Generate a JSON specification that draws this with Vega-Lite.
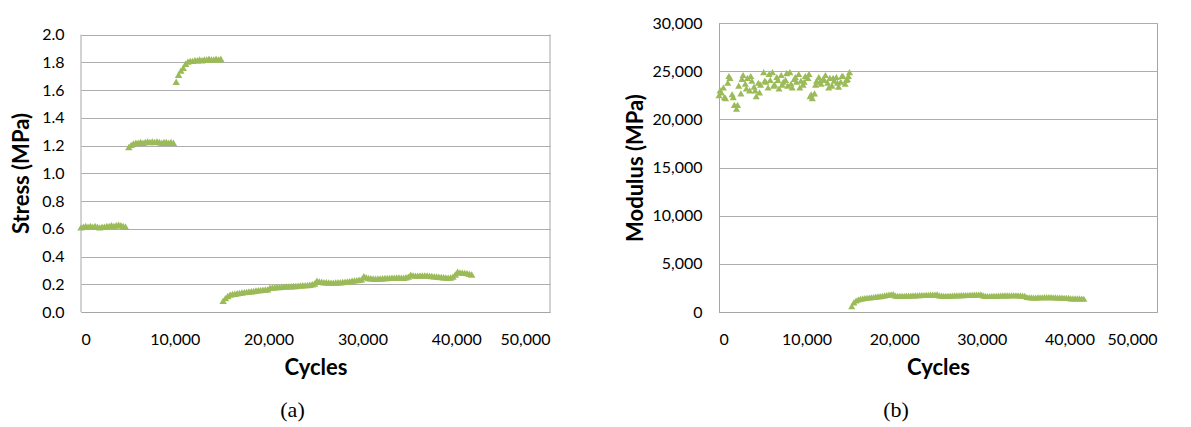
{
  "$schema": "https://vega.github.io/schema/vega-lite/v6.json",
  "background": "white",
  "padding": {"left": 10, "top": 14, "right": 5, "bottom": 5},
  "spacing": 73,
  "config": {
    "view": {"stroke": "#A6A6A6", "strokeWidth": 1},
    "axis": {
      "labelFont": "Lato", "labelFontSize": 16, "labelColor": "#000000", "labelOverlap": false,
      "titleFont": "Lato", "titleFontSize": 22, "titleFontWeight": "bold", "titleColor": "#000000",
      "gridColor": "#ADADAD", "gridWidth": 1, "domainColor": "#A6A6A6",
      "ticks": false, "labelPadding": 17
    }
  },
  "datasets": {
    "edges": [{"edge": 0}, {"edge": 50000}],
    "d": [
      {"cycles":0,"stress":0.61,"modulus":22500},{"cycles":250,"stress":0.615,"modulus":22800},{"cycles":500,"stress":0.62,"modulus":23300},{"cycles":750,"stress":0.615,"modulus":22200},{"cycles":1000,"stress":0.62,"modulus":23800},{"cycles":1250,"stress":0.615,"modulus":24300},{"cycles":1500,"stress":0.62,"modulus":22600},{"cycles":1750,"stress":0.615,"modulus":21500},{"cycles":2000,"stress":0.61,"modulus":21100},{"cycles":2250,"stress":0.615,"modulus":23500},{"cycles":2500,"stress":0.615,"modulus":22700},{"cycles":2750,"stress":0.62,"modulus":24600},{"cycles":3000,"stress":0.62,"modulus":23700},{"cycles":3250,"stress":0.625,"modulus":24300},{"cycles":3500,"stress":0.62,"modulus":23000},{"cycles":3750,"stress":0.625,"modulus":24000},{"cycles":4000,"stress":0.63,"modulus":23400},{"cycles":4250,"stress":0.625,"modulus":22400},{"cycles":4500,"stress":0.62,"modulus":23800},{"cycles":4750,"stress":0.615,"modulus":23600},
      {"cycles":5100,"stress":1.19,"modulus":24900},{"cycles":5350,"stress":1.205,"modulus":23900},{"cycles":5600,"stress":1.215,"modulus":23300},{"cycles":5850,"stress":1.22,"modulus":24100},{"cycles":6100,"stress":1.22,"modulus":24900},{"cycles":6350,"stress":1.225,"modulus":23600},{"cycles":6600,"stress":1.22,"modulus":24400},{"cycles":6850,"stress":1.225,"modulus":23200},{"cycles":7100,"stress":1.23,"modulus":24600},{"cycles":7350,"stress":1.225,"modulus":23900},{"cycles":7600,"stress":1.23,"modulus":24100},{"cycles":7850,"stress":1.225,"modulus":23500},{"cycles":8100,"stress":1.23,"modulus":24900},{"cycles":8350,"stress":1.225,"modulus":23300},{"cycles":8600,"stress":1.22,"modulus":24200},{"cycles":8850,"stress":1.225,"modulus":23900},{"cycles":9100,"stress":1.225,"modulus":24700},{"cycles":9350,"stress":1.22,"modulus":24000},{"cycles":9600,"stress":1.225,"modulus":23600},{"cycles":9850,"stress":1.22,"modulus":24500},
      {"cycles":10150,"stress":1.66,"modulus":24300},{"cycles":10400,"stress":1.71,"modulus":22400},{"cycles":10650,"stress":1.74,"modulus":22200},{"cycles":10900,"stress":1.76,"modulus":22700},{"cycles":11150,"stress":1.79,"modulus":24000},{"cycles":11400,"stress":1.805,"modulus":24400},{"cycles":11650,"stress":1.81,"modulus":23700},{"cycles":11900,"stress":1.81,"modulus":24200},{"cycles":12150,"stress":1.815,"modulus":24600},{"cycles":12400,"stress":1.815,"modulus":23800},{"cycles":12650,"stress":1.82,"modulus":24300},{"cycles":12900,"stress":1.815,"modulus":23500},{"cycles":13150,"stress":1.82,"modulus":24000},{"cycles":13400,"stress":1.82,"modulus":24400},{"cycles":13650,"stress":1.825,"modulus":23400},{"cycles":13900,"stress":1.82,"modulus":23900},{"cycles":14150,"stress":1.82,"modulus":24500},{"cycles":14400,"stress":1.825,"modulus":23700},{"cycles":14650,"stress":1.82,"modulus":24200},{"cycles":14900,"stress":1.825,"modulus":24900},
      {"cycles":15150,"stress":0.08,"modulus":600},{"cycles":15400,"stress":0.10,"modulus":1000},{"cycles":15650,"stress":0.115,"modulus":1200},{"cycles":15900,"stress":0.125,"modulus":1300},{"cycles":16150,"stress":0.13,"modulus":1380},{"cycles":16400,"stress":0.132,"modulus":1420},{"cycles":16650,"stress":0.135,"modulus":1450},{"cycles":16900,"stress":0.138,"modulus":1480},{"cycles":17150,"stress":0.14,"modulus":1500},{"cycles":17400,"stress":0.143,"modulus":1530},{"cycles":17650,"stress":0.145,"modulus":1560},{"cycles":17900,"stress":0.148,"modulus":1590},{"cycles":18150,"stress":0.15,"modulus":1620},{"cycles":18400,"stress":0.152,"modulus":1650},{"cycles":18650,"stress":0.155,"modulus":1680},{"cycles":18900,"stress":0.157,"modulus":1720},{"cycles":19150,"stress":0.158,"modulus":1760},{"cycles":19400,"stress":0.16,"modulus":1800},{"cycles":19650,"stress":0.162,"modulus":1830},{"cycles":19900,"stress":0.163,"modulus":1850},
      {"cycles":20150,"stress":0.175,"modulus":1700},{"cycles":20400,"stress":0.176,"modulus":1680},{"cycles":20650,"stress":0.178,"modulus":1670},{"cycles":20900,"stress":0.18,"modulus":1680},{"cycles":21150,"stress":0.18,"modulus":1690},{"cycles":21400,"stress":0.182,"modulus":1700},{"cycles":21650,"stress":0.183,"modulus":1700},{"cycles":21900,"stress":0.185,"modulus":1710},{"cycles":22150,"stress":0.185,"modulus":1720},{"cycles":22400,"stress":0.186,"modulus":1730},{"cycles":22650,"stress":0.187,"modulus":1740},{"cycles":22900,"stress":0.188,"modulus":1750},{"cycles":23150,"stress":0.19,"modulus":1760},{"cycles":23400,"stress":0.192,"modulus":1770},{"cycles":23650,"stress":0.193,"modulus":1780},{"cycles":23900,"stress":0.194,"modulus":1790},{"cycles":24150,"stress":0.195,"modulus":1800},{"cycles":24400,"stress":0.197,"modulus":1810},{"cycles":24650,"stress":0.20,"modulus":1820},{"cycles":24900,"stress":0.205,"modulus":1830},
      {"cycles":25150,"stress":0.225,"modulus":1720},{"cycles":25400,"stress":0.22,"modulus":1700},{"cycles":25650,"stress":0.218,"modulus":1690},{"cycles":25900,"stress":0.215,"modulus":1680},{"cycles":26150,"stress":0.214,"modulus":1690},{"cycles":26400,"stress":0.213,"modulus":1700},{"cycles":26650,"stress":0.212,"modulus":1710},{"cycles":26900,"stress":0.212,"modulus":1720},{"cycles":27150,"stress":0.213,"modulus":1730},{"cycles":27400,"stress":0.214,"modulus":1740},{"cycles":27650,"stress":0.215,"modulus":1750},{"cycles":27900,"stress":0.216,"modulus":1750},{"cycles":28150,"stress":0.218,"modulus":1760},{"cycles":28400,"stress":0.22,"modulus":1770},{"cycles":28650,"stress":0.222,"modulus":1780},{"cycles":28900,"stress":0.225,"modulus":1790},{"cycles":29150,"stress":0.228,"modulus":1800},{"cycles":29400,"stress":0.23,"modulus":1810},{"cycles":29650,"stress":0.232,"modulus":1820},{"cycles":29900,"stress":0.235,"modulus":1840},
      {"cycles":30150,"stress":0.258,"modulus":1720},{"cycles":30400,"stress":0.25,"modulus":1680},{"cycles":30650,"stress":0.245,"modulus":1660},{"cycles":30900,"stress":0.243,"modulus":1660},{"cycles":31150,"stress":0.241,"modulus":1670},{"cycles":31400,"stress":0.24,"modulus":1680},{"cycles":31650,"stress":0.241,"modulus":1690},{"cycles":31900,"stress":0.242,"modulus":1700},{"cycles":32150,"stress":0.243,"modulus":1710},{"cycles":32400,"stress":0.245,"modulus":1720},{"cycles":32650,"stress":0.245,"modulus":1720},{"cycles":32900,"stress":0.246,"modulus":1730},{"cycles":33150,"stress":0.247,"modulus":1730},{"cycles":33400,"stress":0.248,"modulus":1740},{"cycles":33650,"stress":0.249,"modulus":1740},{"cycles":33900,"stress":0.249,"modulus":1740},{"cycles":34150,"stress":0.248,"modulus":1730},{"cycles":34400,"stress":0.247,"modulus":1720},{"cycles":34650,"stress":0.25,"modulus":1700},{"cycles":34900,"stress":0.255,"modulus":1680},
      {"cycles":35150,"stress":0.268,"modulus":1560},{"cycles":35400,"stress":0.264,"modulus":1530},{"cycles":35650,"stress":0.262,"modulus":1520},{"cycles":35900,"stress":0.262,"modulus":1510},{"cycles":36150,"stress":0.263,"modulus":1510},{"cycles":36400,"stress":0.264,"modulus":1520},{"cycles":36650,"stress":0.264,"modulus":1530},{"cycles":36900,"stress":0.263,"modulus":1530},{"cycles":37150,"stress":0.261,"modulus":1540},{"cycles":37400,"stress":0.259,"modulus":1540},{"cycles":37650,"stress":0.257,"modulus":1540},{"cycles":37900,"stress":0.256,"modulus":1540},{"cycles":38150,"stress":0.254,"modulus":1530},{"cycles":38400,"stress":0.252,"modulus":1520},{"cycles":38650,"stress":0.25,"modulus":1510},{"cycles":38900,"stress":0.249,"modulus":1500},{"cycles":39150,"stress":0.248,"modulus":1490},{"cycles":39400,"stress":0.249,"modulus":1480},{"cycles":39650,"stress":0.255,"modulus":1470},{"cycles":39900,"stress":0.27,"modulus":1460},
      {"cycles":40150,"stress":0.29,"modulus":1420},{"cycles":40400,"stress":0.285,"modulus":1420},{"cycles":40650,"stress":0.284,"modulus":1420},{"cycles":40900,"stress":0.282,"modulus":1420},{"cycles":41150,"stress":0.28,"modulus":1410},{"cycles":41400,"stress":0.276,"modulus":1400},{"cycles":41650,"stress":0.27,"modulus":1380},
      {"cycles":125,"modulus":23000},{"cycles":625,"modulus":22300},{"cycles":1125,"modulus":24500},{"cycles":1625,"modulus":22300},{"cycles":2125,"modulus":21500},{"cycles":2625,"modulus":24200},{"cycles":3125,"modulus":23200},{"cycles":3625,"modulus":24500},{"cycles":4125,"modulus":23000},{"cycles":4625,"modulus":22800},{"cycles":5225,"modulus":24000},{"cycles":5725,"modulus":24700},{"cycles":6225,"modulus":23500},{"cycles":6725,"modulus":24100},{"cycles":7225,"modulus":23600},{"cycles":7725,"modulus":24800},{"cycles":8225,"modulus":23700},{"cycles":8725,"modulus":24400},{"cycles":9225,"modulus":23300},{"cycles":9725,"modulus":23900},{"cycles":10275,"modulus":24700},{"cycles":10525,"modulus":22600},{"cycles":11025,"modulus":23600},{"cycles":11525,"modulus":23900},{"cycles":12025,"modulus":24100},{"cycles":12525,"modulus":23300},{"cycles":13025,"modulus":24300},{"cycles":13525,"modulus":23800},{"cycles":14025,"modulus":24500},{"cycles":14525,"modulus":24100},{"cycles":14775,"modulus":24500}
    ]
  },
  "hconcat": [
    {
      "width": 469,
      "height": 289,
      "view": {"stroke": null},
      "title": {"text": "(a)", "orient": "bottom", "font": "Liberation Serif", "fontSize": 22, "fontWeight": "normal", "color": "#000000", "dx": -23, "offset": 22},
      "layer": [
        {
          "data": {"name": "d"},
          "mark": {"type": "point", "shape": "triangle-up", "filled": true, "size": 55, "color": "#9BBB59", "opacity": 1},
          "encoding": {
            "x": {"field": "cycles", "type": "quantitative", "scale": {"domain": [0, 50000], "nice": false}, "axis": {"values": [0, 10000, 20000, 30000, 40000, 50000], "format": ",d", "grid": false, "domain": true, "title": "Cycles", "titlePadding": 10, "labelPadding": 19}},
            "y": {"field": "stress", "type": "quantitative", "scale": {"domain": [0, 2.0833], "nice": false}, "axis": {"values": [0, 0.2, 0.4, 0.6, 0.8, 1.0, 1.2, 1.4, 1.6, 1.8, 2.0], "format": ".1f", "grid": true, "domain": false, "labelOverlap": false, "title": "Stress (MPa)", "titlePadding": 8, "titleY": 150}}
          }
        },
        {
          "data": {"name": "edges"},
          "mark": {"type": "rule", "color": "#A6A6A6", "strokeWidth": 1},
          "encoding": {
            "x": {"field": "edge", "type": "quantitative", "axis": {"values": [0, 10000, 20000, 30000, 40000, 50000], "format": ",d", "grid": false, "domain": true, "title": "Cycles", "titlePadding": 10, "labelPadding": 19}},
            "y": {"datum": 0, "type": "quantitative", "axis": {"values": [0, 0.2, 0.4, 0.6, 0.8, 1.0, 1.2, 1.4, 1.6, 1.8, 2.0], "format": ".1f", "grid": true, "domain": false, "labelOverlap": false, "title": "Stress (MPa)", "titlePadding": 8, "titleY": 150}},
            "y2": {"datum": 2}
          }
        }
      ]
    },
    {
      "width": 438,
      "height": 289,
      "data": {"name": "d"},
      "title": {"text": "(b)", "orient": "bottom", "font": "Liberation Serif", "fontSize": 22, "fontWeight": "normal", "color": "#000000", "dx": -42, "offset": 22},
      "mark": {"type": "point", "shape": "triangle-up", "filled": true, "size": 50, "color": "#9BBB59", "opacity": 1},
      "encoding": {
        "x": {"field": "cycles", "type": "quantitative", "scale": {"domain": [0, 50000], "nice": false}, "axis": {"values": [0, 10000, 20000, 30000, 40000, 50000], "format": ",d", "grid": false, "title": "Cycles", "titlePadding": 10, "labelPadding": 19}},
        "y": {"field": "modulus", "type": "quantitative", "scale": {"domain": [0, 30000], "nice": false}, "axis": {"values": [0, 5000, 10000, 15000, 20000, 25000, 30000], "format": ",d", "grid": true, "title": "Modulus (MPa)", "titlePadding": 4}}
      }
    }
  ]
}
